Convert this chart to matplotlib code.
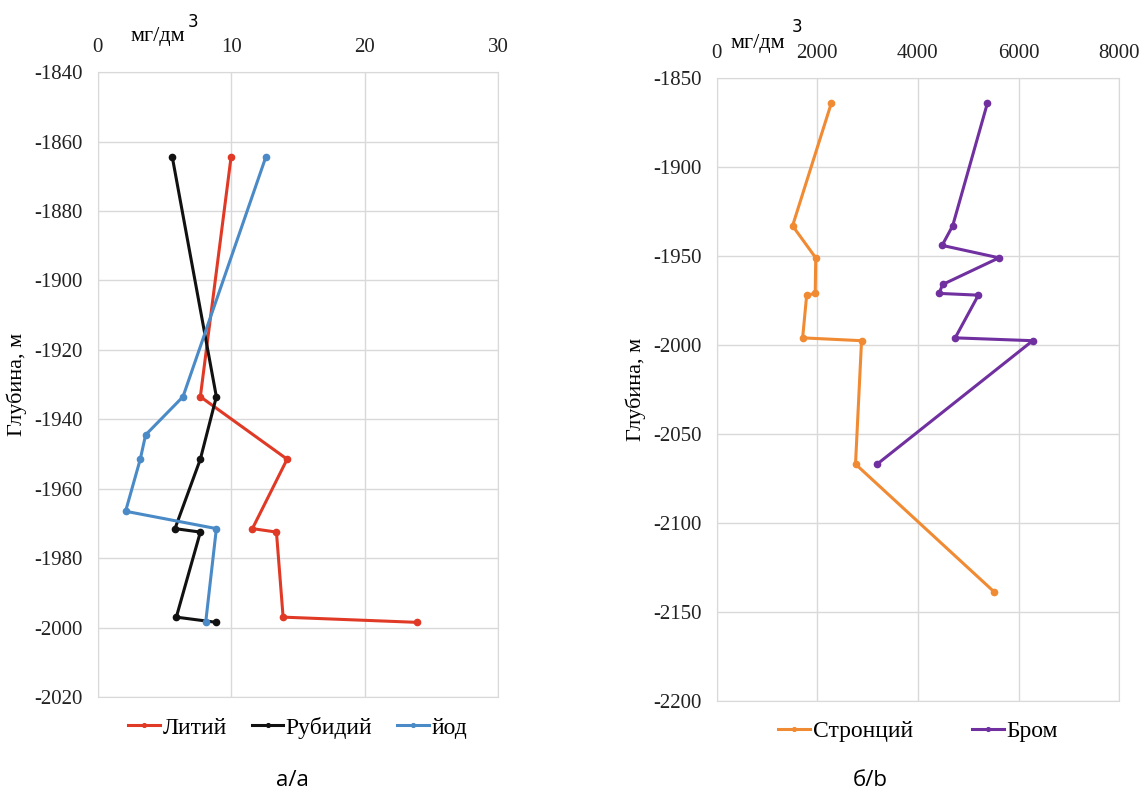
import matplotlib
matplotlib.use("Agg")
import matplotlib.pyplot as plt

# глубины, м
depth_a = [-1864.5, -1933.5, -1951.5, -1971.5, -1972.5, -1997, -1998.5]
depth_iod = [-1864.5, -1933.5, -1944.5, -1951.5, -1966.5, -1971.5, -1998.5]
depth_sr = [-1864, -1933, -1951, -1971, -1972, -1996, -1997.6, -2067, -2139]
depth_br = [-1864, -1933, -1944, -1951, -1966, -1971, -1972, -1996, -1997.6, -2067]

# концентрации, мг/дм3
litiy = [10.0, 7.7, 14.2, 11.6, 13.4, 13.9, 23.9]
rubidiy = [5.6, 8.9, 7.7, 5.8, 7.7, 5.9, 8.9]
iod = [12.6, 6.4, 3.6, 3.2, 2.1, 8.9, 8.1]
stronciy = [2280, 1510, 1970, 1960, 1790, 1710, 2880, 2760, 5520]
brom = [5380, 4690, 4480, 5610, 4490, 4420, 5200, 4740, 6280, 3190]

plt.rcParams["font.family"] = ["Liberation Serif", "DejaVu Serif"]
plt.rcParams["axes.unicode_minus"] = False
grid_c = "#d9d9d9"

fig = plt.figure(figsize=(11.41, 7.98), dpi=100)
ax1 = fig.add_axes([0.0855, 0.1266, 0.351, 0.783])
ax2 = fig.add_axes([0.628, 0.122, 0.353, 0.78])


def style(ax, xlim, xticks, ylim, yticks):
    ax.set_xlim(xlim)
    ax.set_ylim(ylim)
    ax.set_xticks(xticks)
    ax.set_yticks(yticks)
    ax.xaxis.tick_top()
    ax.tick_params(length=0, labelsize=15, pad=11, labelcolor="#222222")
    ax.grid(True, color=grid_c, lw=1)
    ax.set_axisbelow(True)
    for s in ax.spines.values():
        s.set_color(grid_c)
    ax.set_ylabel("Глубина, м", fontsize=16, labelpad=5)


style(ax1, (0, 30), [0, 10, 20, 30], (-2020, -1840), range(-2020, -1839, 20))
style(ax2, (0, 8000), [0, 2000, 4000, 6000, 8000], (-2200, -1850), range(-2200, -1849, 50))

kw = dict(lw=2.2, marker="o", ms=4.5)
ax1.plot(litiy, depth_a, color="#e03a26", label="Литий", **kw)
ax1.plot(rubidiy, depth_a, color="#111111", label="Рубидий", **kw)
ax1.plot(iod, depth_iod, color="#4a8ac6", label="йод", **kw)

ax2.plot(stronciy, depth_sr, color="#f08a33", label="Стронций", **kw)
ax2.plot(brom, depth_br, color="#7030a0", label="Бром", **kw)

ax1.legend(loc="upper center", bbox_to_anchor=(0.5, -0.005), ncol=3, frameon=False,
           fontsize=17, handlelength=1.35, handletextpad=0.1, columnspacing=1.05,
           markerscale=0.6, borderaxespad=0.3)
ax2.legend(loc="upper center", bbox_to_anchor=(0.5, -0.005), ncol=2, frameon=False,
           fontsize=17, handlelength=1.35, handletextpad=0.1, columnspacing=2.5,
           markerscale=0.6, borderaxespad=0.3)

# единицы измерения над осью
fig.text(0.114, 0.954, "мг/дм", fontsize=16, va="center", ha="left")
fig.text(0.169, 0.972, "3", family="DejaVu Sans", fontsize=12, va="center", ha="center")
fig.text(0.640, 0.946, "мг/дм", fontsize=16, va="center", ha="left")
fig.text(0.6985, 0.966, "3", family="DejaVu Sans", fontsize=12, va="center", ha="center")

# подписи панелей
fig.text(0.256, 0.022, "а/а", family="Open Sans", fontsize=16, ha="center", va="center")
fig.text(0.763, 0.022, "б/b", family="Open Sans", fontsize=16, ha="center", va="center")

fig.savefig("out.png", dpi=100)
